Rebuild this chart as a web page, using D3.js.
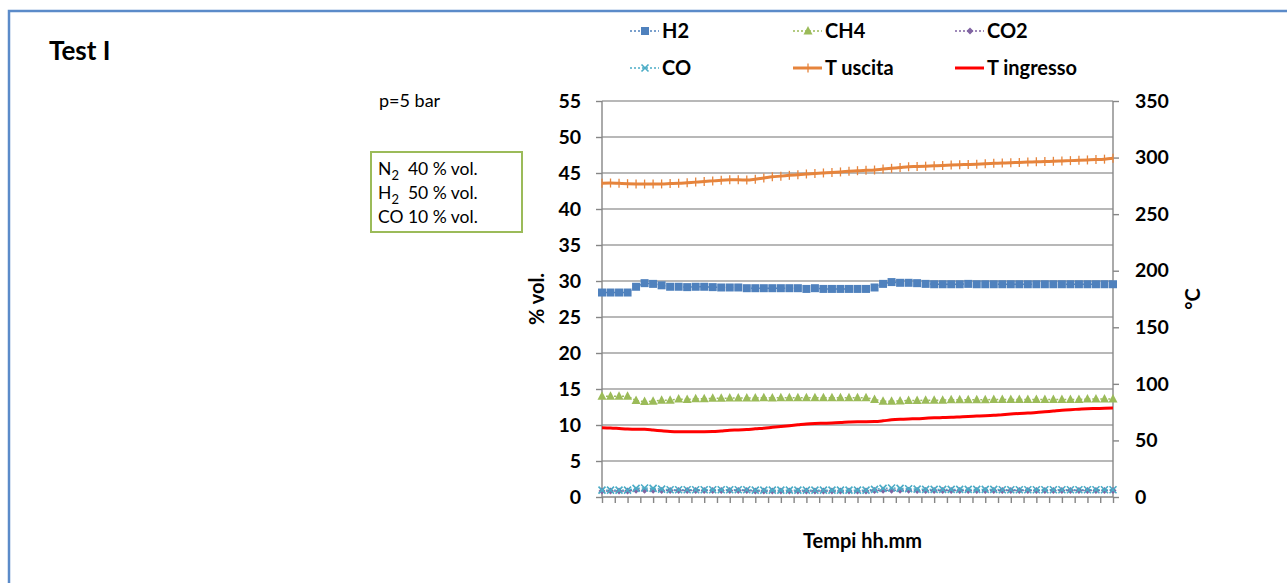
<!DOCTYPE html>
<html>
<head>
<meta charset="utf-8">
<script src="https://cdn.jsdelivr.net/npm/d3@7"></script>
<style>
  body { margin: 0; background: #fff; }
  svg { display: block; font-family: Lato, "Open Sans", sans-serif; }
</style>
</head>
<body>
<svg id="chart" width="1287" height="583"></svg>
<script>
// valori (61 campioni)
const h2 = [28.4, 28.4, 28.4, 28.4, 29.2, 29.7, 29.6, 29.4, 29.2, 29.2,
  29.15, 29.2, 29.2, 29.15, 29.1, 29.1, 29.1, 29.0, 29.0, 29.0,
  29.0, 29.0, 29.0, 29.0, 28.9, 29.0, 28.9, 28.9, 28.9, 28.9,
  28.9, 28.9, 29.1, 29.6, 29.85, 29.75, 29.75, 29.7, 29.6, 29.55,
  29.55, 29.55, 29.55, 29.6, 29.55, 29.55, 29.55, 29.55, 29.55, 29.55,
  29.55, 29.55, 29.55, 29.55, 29.55, 29.55, 29.55, 29.55, 29.55, 29.55, 29.55];
const ch4 = [14.0, 14.0, 14.0, 14.0, 13.4, 13.25, 13.3, 13.45, 13.45, 13.6,
  13.55, 13.65, 13.65, 13.7, 13.7, 13.75, 13.75, 13.75, 13.75, 13.8,
  13.75, 13.8, 13.8, 13.8, 13.8, 13.8, 13.8, 13.8, 13.8, 13.8,
  13.8, 13.8, 13.55, 13.3, 13.3, 13.35, 13.4, 13.4, 13.45, 13.45,
  13.45, 13.5, 13.5, 13.5, 13.5, 13.5, 13.55, 13.55, 13.55, 13.55,
  13.55, 13.55, 13.55, 13.55, 13.55, 13.55, 13.55, 13.6, 13.6, 13.6, 13.6];
const co2 = [0.85, 0.85, 0.85, 0.85, 0.95, 0.95, 0.95, 0.9, 0.9, 0.9,
  0.9, 0.9, 0.9, 0.9, 0.9, 0.9, 0.9, 0.9, 0.85, 0.85,
  0.85, 0.85, 0.85, 0.85, 0.85, 0.85, 0.85, 0.85, 0.85, 0.85,
  0.85, 0.85, 0.9, 0.95, 0.95, 0.95, 0.95, 0.9, 0.9, 0.9,
  0.9, 0.9, 0.9, 0.9, 0.9, 0.9, 0.9, 0.9, 0.9, 0.9,
  0.9, 0.9, 0.9, 0.9, 0.9, 0.9, 0.9, 0.9, 0.9, 0.9, 0.9];
const co = [0.95, 0.95, 0.95, 0.95, 1.2, 1.25, 1.2, 1.1, 1.0, 1.0,
  1.0, 1.0, 1.0, 1.0, 1.0, 1.0, 1.0, 1.0, 0.95, 0.95,
  0.95, 0.95, 0.95, 0.95, 0.95, 0.95, 0.95, 0.95, 0.95, 0.95,
  0.95, 0.95, 1.05, 1.2, 1.25, 1.2, 1.15, 1.1, 1.05, 1.05,
  1.05, 1.05, 1.05, 1.05, 1.05, 1.05, 1.05, 1.0, 1.0, 1.0,
  1.0, 1.0, 1.0, 1.0, 1.0, 1.0, 1.0, 1.0, 1.0, 1.0, 1.0];
const tUscita = [277.3, 277.5, 277.2, 276.9, 276.7, 276.6, 276.6, 276.7, 277.0, 277.3,
  277.8, 278.3, 278.8, 279.4, 280.0, 280.3, 280.3, 280.2, 280.9, 281.9,
  283.0, 283.6, 284.3, 284.9, 285.5, 285.9, 286.4, 286.9, 287.3, 287.9,
  288.4, 288.7, 289.0, 289.8, 290.5, 291.2, 291.9, 292.1, 292.4, 292.7,
  293.0, 293.4, 293.7, 293.9, 294.2, 294.6, 294.9, 295.2, 295.5, 295.7,
  296.0, 296.2, 296.5, 296.7, 297.0, 297.3, 297.6, 297.9, 298.2, 298.6, 299.3];
const tIngresso = [61.3, 61.0, 60.5, 60.0, 59.8, 59.8, 59.2, 58.5, 57.9, 57.7,
  57.7, 57.7, 57.7, 57.8, 58.4, 59.0, 59.2, 59.6, 60.3, 60.8,
  61.6, 62.3, 63.0, 63.8, 64.6, 65.0, 65.2, 65.4, 65.8, 66.3,
  66.6, 66.6, 66.7, 67.3, 68.2, 68.7, 69.0, 69.2, 69.6, 70.0,
  70.2, 70.4, 70.8, 71.2, 71.5, 71.8, 72.2, 72.8, 73.3, 73.8,
  74.2, 74.6, 75.3, 76.0, 76.7, 77.2, 77.6, 78.0, 78.2, 78.4, 78.7];

const leftTicks = [0, 5, 10, 15, 20, 25, 30, 35, 40, 45, 50, 55];
const rightTicks = [0, 50, 100, 150, 200, 250, 300, 350];
const gasNote = [["N", "2", "  40 % vol."], ["H", "2", "  50 % vol."], ["CO", "", " 10 % vol."]];

const svg = d3.select("#chart");
const plot = { left: 602, right: 1113, top: 101, bottom: 497 };

const x = d3.scaleLinear().domain([0, h2.length - 1]).range([plot.left, plot.right]);
const yL = d3.scaleLinear().domain([0, 55]).range([plot.bottom, plot.top]);
const yR = d3.scaleLinear().domain([0, 350]).range([plot.bottom, plot.top]);

// cornice
svg.append("path")
    .attr("d", "M9,583 L9,11 L1287,11")
    .attr("fill", "none")
    .attr("stroke", "#5b8bc9")
    .attr("stroke-width", 2.5);

svg.append("text")
    .attr("x", 49).attr("y", 60)
    .attr("font-size", "26px").attr("font-weight", "bold")
    .text("Test I");

svg.append("text")
    .attr("x", 379).attr("y", 107)
    .attr("font-size", "18px")
    .text("p=5 bar");

svg.append("rect")
    .attr("x", 371).attr("y", 152)
    .attr("width", 151).attr("height", 80)
    .attr("fill", "#fff")
    .attr("stroke", "#9bbb59")
    .attr("stroke-width", 2);

gasNote.forEach((row, i) => {
    let t = svg.append("text")
        .attr("x", 378).attr("y", 175 + i * 24)
        .attr("font-size", "17.5px")
        .attr("xml:space", "preserve");
    t.append("tspan").text(row[0]);
    if (row[1]) t.append("tspan").attr("dy", 5).attr("font-size", "13px").text(row[1]);
    t.append("tspan").attr("dy", row[1] ? -5 : 0).text(row[2]);
});

// griglia
svg.append("g").selectAll("line")
    .data(leftTicks.filter(d => d > 0))
    .join("line")
    .attr("x1", plot.left).attr("x2", plot.right)
    .attr("y1", d => yL(d)).attr("y2", d => yL(d))
    .attr("stroke", "#a0a0a0")
    .attr("stroke-width", 1.4);

// assi
const axisColor = "#868686";
const gLeft = svg.append("g").attr("transform", `translate(${plot.left},0)`)
    .call(d3.axisLeft(yL).tickValues(leftTicks).tickSize(6).tickPadding(15));
const gRight = svg.append("g").attr("transform", `translate(${plot.right},0)`)
    .call(d3.axisRight(yR).tickValues(rightTicks).tickSize(6).tickPadding(16));
const gBottom = svg.append("g").attr("transform", `translate(0,${plot.bottom})`)
    .call(d3.axisBottom(x).tickValues(d3.range(0, h2.length - 0.99, 1.5)).tickSize(6).tickFormat(""));

[gLeft, gRight, gBottom].forEach(g => {
    g.select(".domain").attr("stroke", axisColor).attr("stroke-width", 1.4);
    g.selectAll(".tick line").attr("stroke", axisColor).attr("stroke-width", 1.4);
    g.selectAll("text")
        .attr("font-family", "Lato, sans-serif")
        .attr("font-size", "19.5px")
        .attr("font-weight", "bold")
        .attr("fill", "#000");
});
gLeft.select(".domain").attr("d", `M0,${plot.bottom}V${plot.top}`);
gRight.select(".domain").attr("d", `M0,${plot.bottom}V${plot.top}`);
gBottom.select(".domain").attr("d", `M${plot.left},0H${plot.right}`);

// titoli assi
svg.append("text")
    .attr("transform", `translate(544,${(plot.top + plot.bottom) / 2}) rotate(-90)`)
    .attr("text-anchor", "middle")
    .attr("font-size", "20px").attr("font-weight", "bold")
    .text("% vol.");
svg.append("text")
    .attr("transform", `translate(1200,${(plot.top + plot.bottom) / 2}) rotate(-90)`)
    .attr("text-anchor", "middle")
    .attr("font-size", "20px").attr("font-weight", "bold")
    .text("°C");
svg.append("text")
    .attr("x", (plot.left + plot.right) / 2 + 5).attr("y", 548)
    .attr("text-anchor", "middle")
    .attr("font-size", "20px").attr("font-weight", "bold")
    .text("Tempi hh.mm");

// marcatori
function marker(g, type, color, px, py) {
    if (type === "square") {
        g.append("rect").attr("x", px - 4).attr("y", py - 4).attr("width", 8).attr("height", 8).attr("fill", color);
    } else if (type === "triangle") {
        g.append("path").attr("d", `M${px},${py - 5}L${px + 4.5},${py + 3.5}L${px - 4.5},${py + 3.5}Z`).attr("fill", color);
    } else if (type === "diamond") {
        g.append("path").attr("d", `M${px},${py - 3.5}L${px + 3.5},${py}L${px},${py + 3.5}L${px - 3.5},${py}Z`).attr("fill", color);
    } else if (type === "x") {
        g.append("path").attr("d", `M${px - 3.5},${py - 3.5}L${px + 3.5},${py + 3.5}M${px + 3.5},${py - 3.5}L${px - 3.5},${py + 3.5}`)
            .attr("stroke", color).attr("stroke-width", 1.6);
    } else if (type === "plus") {
        g.append("path").attr("d", `M${px},${py - 4.5}V${py + 4.5}`)
            .attr("stroke", color).attr("stroke-width", 1.3);
    }
}

const series = [
    { name: "H2", values: h2, color: "#4f81bd", type: "square", axis: yL, dotted: true },
    { name: "CH4", values: ch4, color: "#9bbb59", type: "triangle", axis: yL, dotted: true },
    { name: "CO2", values: co2, color: "#8064a2", type: "diamond", axis: yL, dotted: true },
    { name: "CO", values: co, color: "#4bacc6", type: "x", axis: yL, dotted: true },
    { name: "T uscita", values: tUscita, color: "#e6843c", type: "plus", axis: yR, dotted: false },
    { name: "T ingresso", values: tIngresso, color: "#ff0000", type: null, axis: yR, dotted: false }
];

series.forEach(s => {
    const g = svg.append("g");
    const line = d3.line().x((d, i) => x(i)).y(d => s.axis(d)).curve(s.dotted ? d3.curveLinear : d3.curveMonotoneX);
    g.append("path")
        .datum(s.values)
        .attr("d", line)
        .attr("fill", "none")
        .attr("stroke", s.color)
        .attr("stroke-width", s.dotted ? 1.5 : 3)
        .attr("stroke-dasharray", s.dotted ? "2,2" : null);
    if (s.type) s.values.forEach((v, i) => marker(g, s.type, s.color, x(i), s.axis(v)));
});

// legenda
const legendPos = [[630, 31], [793, 31], [955, 31], [630, 68], [793, 68], [955, 68]];
series.forEach((s, i) => {
    const [lx, ly] = legendPos[i];
    const g = svg.append("g");
    g.append("line")
        .attr("x1", lx).attr("x2", lx + 29).attr("y1", ly).attr("y2", ly)
        .attr("stroke", s.color)
        .attr("stroke-width", s.dotted ? 1.5 : 3)
        .attr("stroke-dasharray", s.dotted ? "2,2" : null);
    if (s.type) marker(g, s.type, s.color, lx + 15, ly);
    g.append("text")
        .attr("x", lx + 32).attr("y", ly + 7)
        .attr("font-size", "20px").attr("font-weight", "bold")
        .text(s.name);
});
</script>
</body>
</html>
